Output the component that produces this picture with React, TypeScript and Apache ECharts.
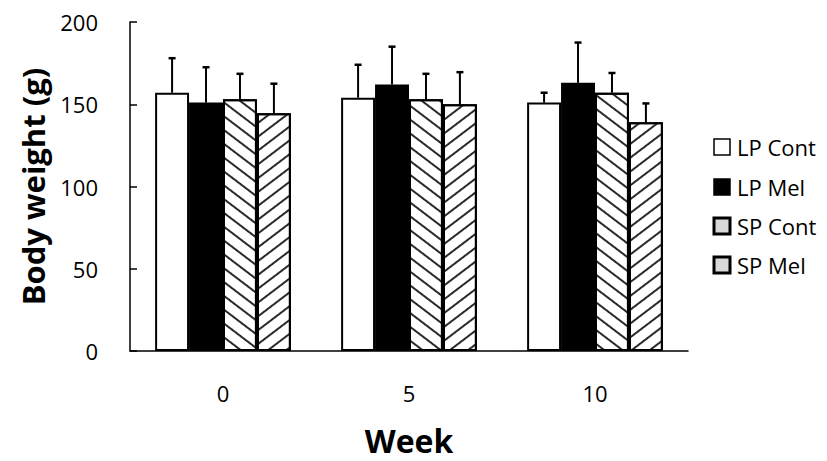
import React, { useEffect, useRef } from "react";
import * as echarts from "echarts";

const weeks = ["0", "5", "10"];
const seriesNames = ["LP Cont", "LP Mel", "SP Cont", "SP Mel"];
const lpCont = [157, 154, 151];
const lpMel = [151, 162, 163];
const spCont = [153, 153, 157];
const spMel = [144.5, 150, 139];
const lpContErr = [21, 20, 6];
const lpMelErr = [21.5, 23, 24.5];
const spContErr = [15.5, 15.5, 12];
const spMelErr = [18, 19.5, 11.5];
const yTicks = { min: 0, max: 200, interval: 50 };

const FONT = "'Open Sans', Lato, sans-serif";

export default function App() {
  const ref = useRef<HTMLDivElement>(null);
  useEffect(() => {
    if (!ref.current) return;
    const chart = echarts.init(ref.current, null, { renderer: "svg" });
    const values = [lpCont, lpMel, spCont, spMel];
    const errs = [lpContErr, lpMelErr, spContErr, spMelErr];
    const catGap = 0.27;
    const errData: number[][] = [];
    values.forEach((vals, k) =>
      vals.forEach((v, i) => errData.push([i, v, errs[k][i], k]))
    );
    const hatch = (rot: number) => ({
      symbol: "rect",
      symbolSize: 1,
      rotation: rot,
      dashArrayX: [1, 0],
      dashArrayY: [2, 8.5],
      color: "#2a2a2a",
      backgroundColor: "#ffffff",
    });
    const fills = ["#ffffff", "#000000", "#ffffff", "#ffffff"];
    const decals: any[] = [null, null, hatch(0.65), hatch(-0.65)];
    const legendY = [147, 187, 226, 265];
    const legendFill = ["#ffffff", "#000000", "#d9d9d9", "#d9d9d9"];
    const legendBorder = [1.5, 1.5, 3, 3];
    const graphics: any[] = [];
    seriesNames.forEach((n, k) => {
      graphics.push({
        type: "rect",
        shape: { x: 714, y: legendY[k] - 8, width: 16, height: 16 },
        style: { fill: legendFill[k], stroke: "#000", lineWidth: legendBorder[k] },
      });
      graphics.push({
        type: "text",
        x: 737,
        y: legendY[k],
        style: {
          text: n,
          fill: "#000",
          font: `22px ${FONT}`,
          verticalAlign: "middle",
          align: "left",
        },
      });
    });
    chart.setOption({
      animation: false,
      grid: { left: 130, right: 139, top: 22, bottom: 103, containLabel: false },
      xAxis: {
        type: "category",
        data: weeks,
        name: "Week",
        nameLocation: "middle",
        nameGap: 73,
        nameTextStyle: { fontFamily: FONT, fontSize: 32, fontWeight: "bold", color: "#000" },
        axisLine: { lineStyle: { color: "#000", width: 1.5 } },
        axisTick: { inside: true, length: 7, lineStyle: { color: "#000", width: 1.5 } },
        axisLabel: { fontFamily: FONT, fontSize: 22, color: "#000", margin: 31 },
      },
      yAxis: {
        type: "value",
        min: yTicks.min,
        max: yTicks.max,
        interval: yTicks.interval,
        name: "Body weight (g)",
        nameLocation: "middle",
        nameGap: 82,
        nameTextStyle: { fontFamily: FONT, fontSize: 31, fontWeight: "bold", color: "#000" },
        axisLine: { show: true, lineStyle: { color: "#000", width: 1.5 } },
        axisTick: { show: true, inside: true, length: 7, lineStyle: { color: "#000", width: 1.5 } },
        splitLine: { show: false },
        axisLabel: { fontFamily: FONT, fontSize: 22, color: "#000", margin: 32 },
      },
      series: [
        ...values.map((vals, k) => ({
          type: "bar",
          name: seriesNames[k],
          data: vals,
          barGap: "0%",
          barCategoryGap: `${catGap * 100}%`,
          itemStyle: {
            color: fills[k],
            borderColor: "#000",
            borderWidth: 2,
            decal: decals[k] || undefined,
          },
        })),
        {
          type: "custom",
          name: "err",
          data: errData,
          z: 10,
          renderItem: (params: any, api: any) => {
            const cat = api.value(0);
            const v = api.value(1);
            const e = api.value(2);
            const k = api.value(3);
            const band = api.size([1, 0])[0];
            const bw = (band * (1 - catGap)) / 4;
            const base = api.coord([cat, v]);
            const top = api.coord([cat, v + e]);
            const x = base[0] + (k - 1.5) * bw;
            return {
              type: "group",
              children: [
                {
                  type: "line",
                  shape: { x1: x, y1: base[1], x2: x, y2: top[1] },
                  style: { stroke: "#000", lineWidth: 2 },
                },
                {
                  type: "line",
                  shape: { x1: x - 3.5, y1: top[1], x2: x + 3.5, y2: top[1] },
                  style: { stroke: "#000", lineWidth: 2.5 },
                },
              ],
            };
          },
        },
      ],
      graphic: graphics,
    });
    return () => chart.dispose();
  }, []);
  return (
    <div
      ref={ref}
      style={{ position: "fixed", left: 0, top: 0, width: 827, height: 461, background: "#fff" }}
    />
  );
}
